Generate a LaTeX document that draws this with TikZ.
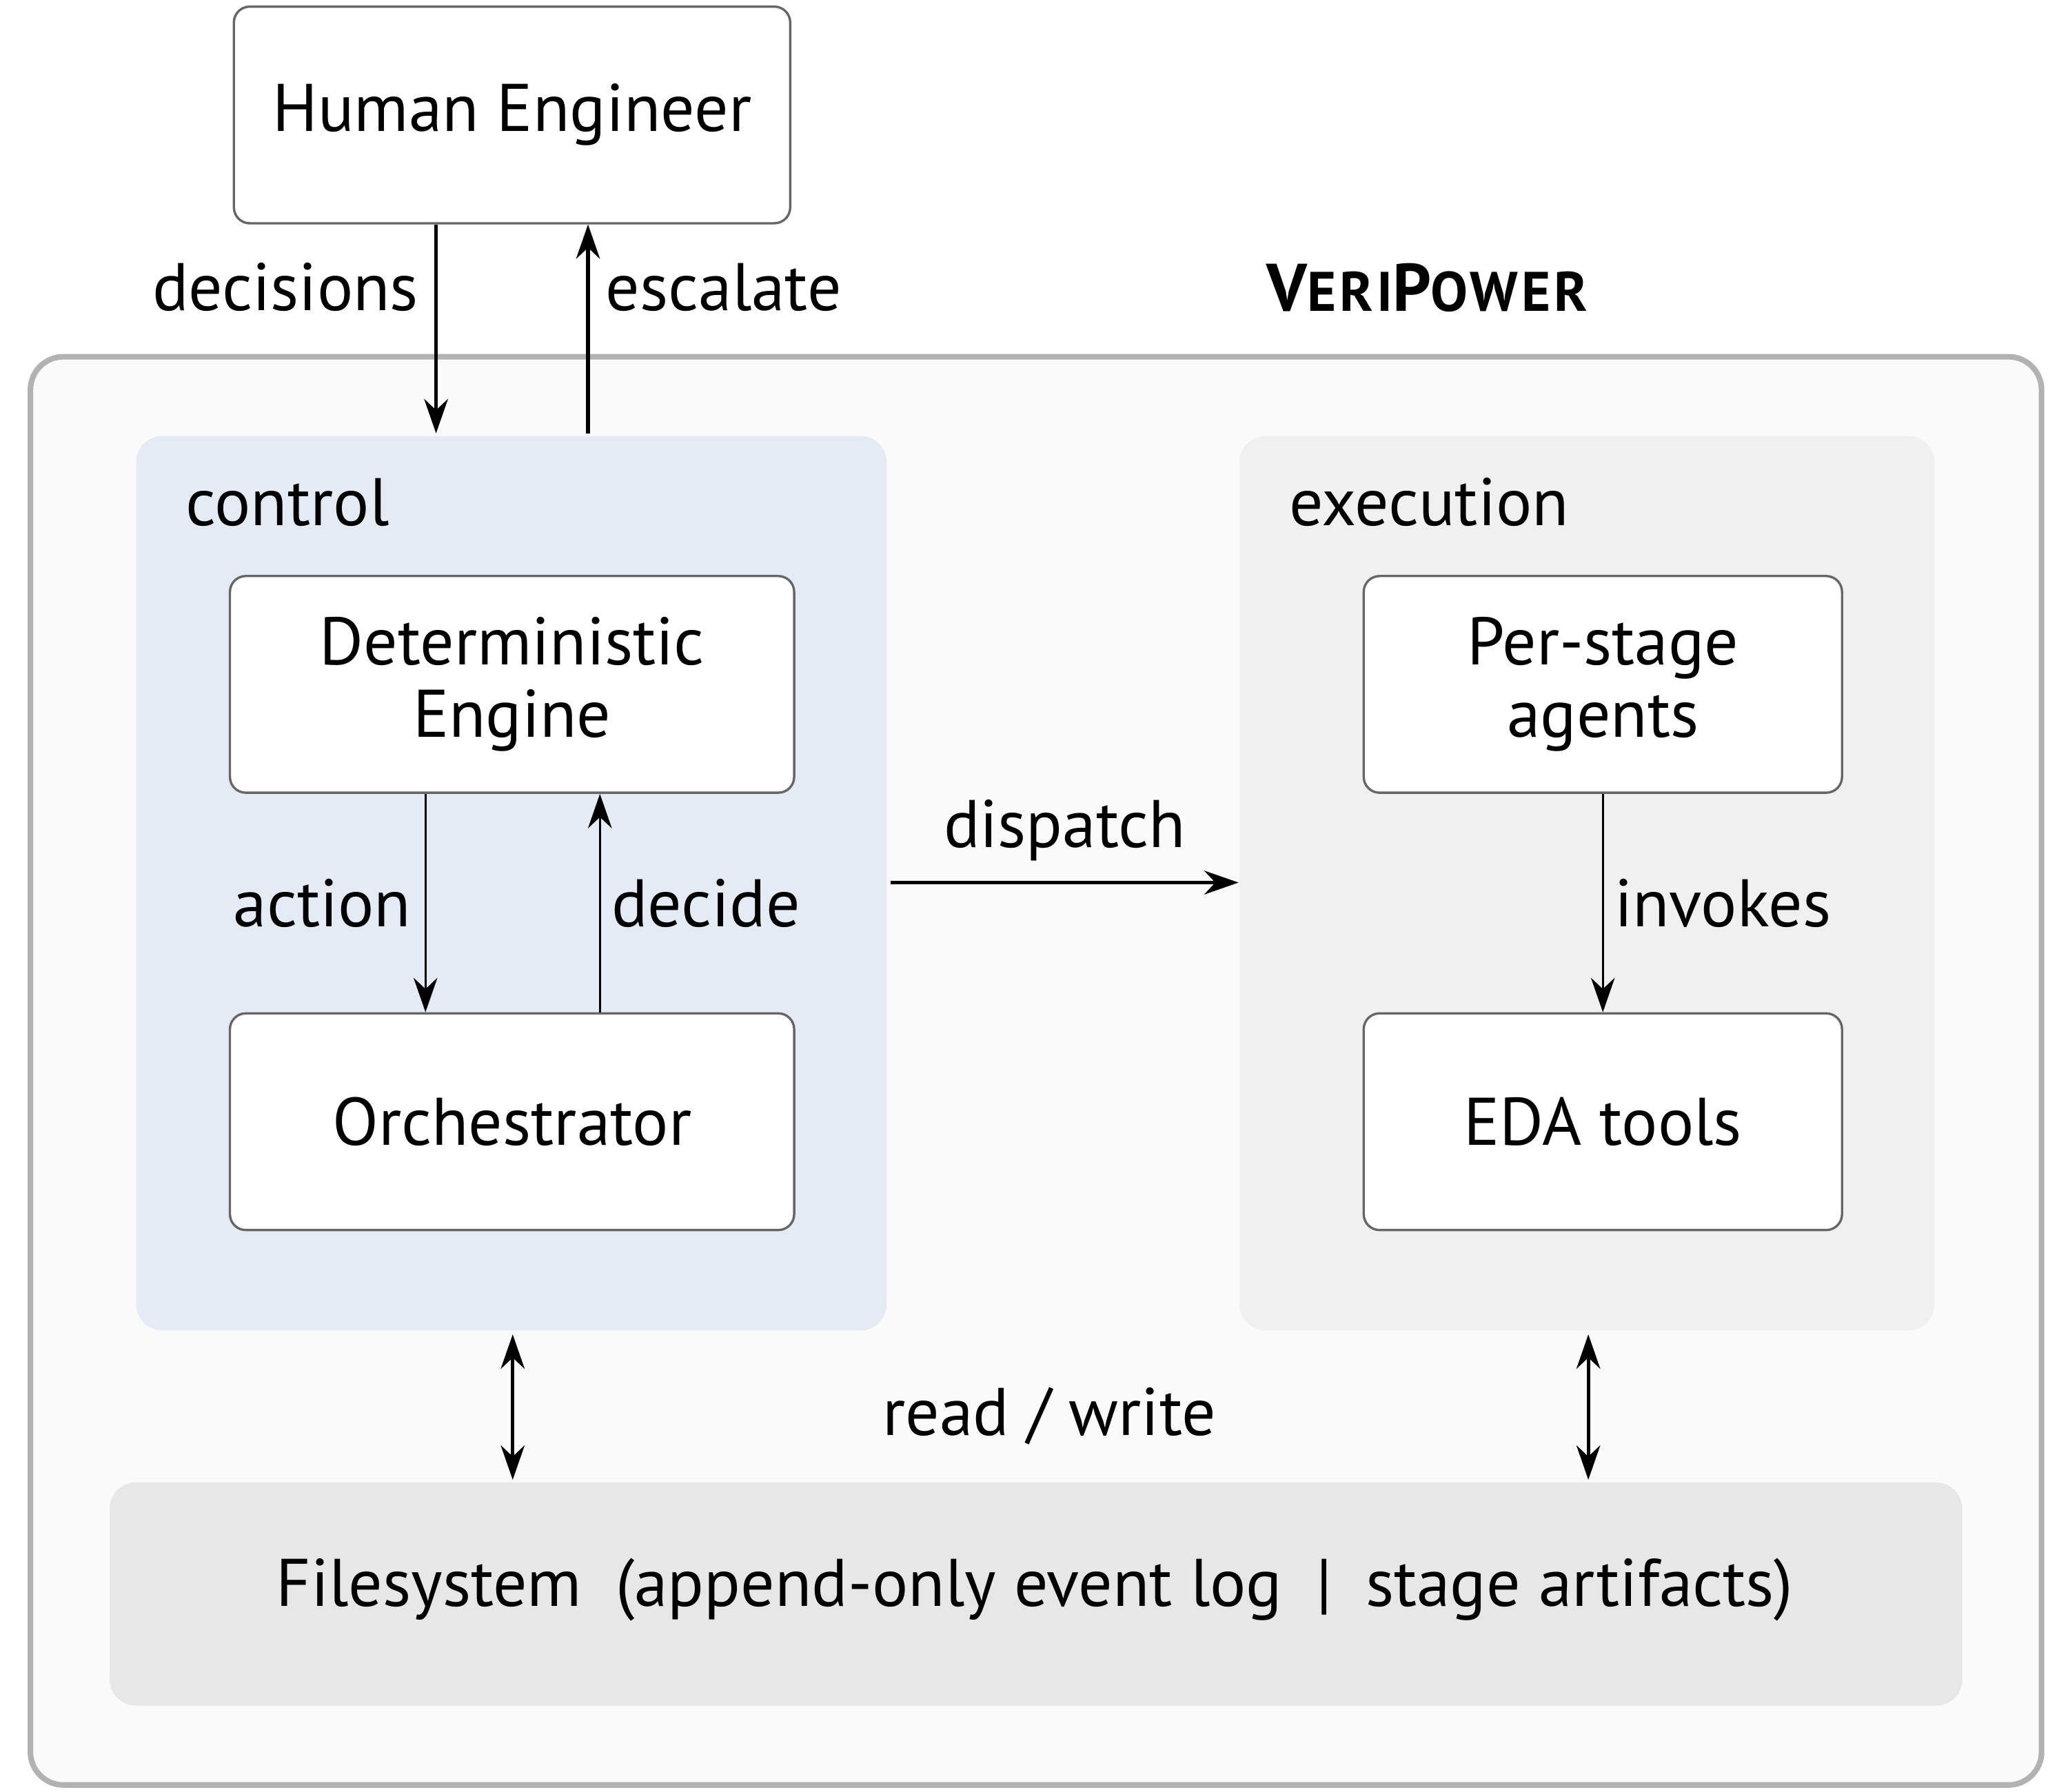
\documentclass[tikz,border=0pt]{standalone}
\usepackage{fontspec}
\setmainfont{PT Sans}
\usetikzlibrary{arrows.meta,calc}
\newcommand{\smc}[1]{{\fontsize{12}{12}\selectfont\addfontfeature{LetterSpace=6} #1}}
\begin{document}
\begin{tikzpicture}[x=0.1mm,y=-0.1mm,
  box/.style={draw=black!60,line width=0.5pt,rounded corners=1.2mm,fill=white,inner sep=0pt,align=center,minimum width=#1},
  panel/.style={rounded corners=2mm,inner sep=0pt},
  arr/.style={-{Stealth[length=2.6mm,width=1.8mm]},line width=0.6pt},
  barr/.style={{Stealth[length=2.6mm,width=1.8mm]}-{Stealth[length=2.6mm,width=1.8mm]},line width=0.7pt},
  lbl/.style={inner sep=0pt},
  font=\fontsize{14.5}{17}\selectfont]
\useasboundingbox (0,0) rectangle (1565,1356);
\fill[white] (0,0) rectangle (1565,1356);
\node[panel,draw=black!30,line width=1.2pt,fill=black!2,minimum width=152.2mm,minimum height=108.1mm,rounded corners=2.5mm] (outer) at (784,810.5) {};
\node[panel,fill={rgb,255:red,228;green,235;blue,245},minimum width=56.8mm,minimum height=67.7mm] (ctrl) at (387,668.5) {};
\node[panel,fill=black!6,minimum width=52.6mm,minimum height=67.7mm] (exec) at (1201,668.5) {};
\node[panel,fill=black!9.5,minimum width=140.2mm,minimum height=16.9mm] (fs) at (784,1206.5) {};
\node[box=42.1mm,minimum height=16.4mm] (he) at (387.5,87) {Human Engineer};
\node[box=42.7mm,minimum height=16.4mm] (de) at (387.5,518) {Deterministic\\[-0.5mm]Engine};
\node[box=42.7mm,minimum height=16.4mm] (or) at (387.5,849) {Orchestrator};
\node[box=36.2mm,minimum height=16.4mm] (pa) at (1213,518) {Per-stage\\[-0.5mm]agents};
\node[box=36.2mm,minimum height=16.4mm] (eda) at (1213,849) {EDA tools};
\node[lbl,anchor=west] (cl) at (140,380) {control};
\node[lbl,anchor=west] (el) at (975,380) {execution};
\node[lbl] (vp) at (1080,218) {\bfseries V\smc{ERI}P\smc{OWER}};
\node[lbl] (fst) at (783,1203) {Filesystem\hspace{0.5em}(append-only event log\hspace{0.5em}|\hspace{0.5em}stage artifacts)};
% arrows
\coordinate (c1) at (330,328); \coordinate (c2) at (445,328);
\draw[arr,line width=0.8pt] (he.south -| c1) -- (c1) node[lbl,pos=0.3,left=1.2mm] (ldec) {decisions};
\draw[arr,line width=0.8pt] (c2) -- (he.south -| c2) node[lbl,pos=0.7,right=1.2mm] (lesc) {escalate};
\coordinate (a1) at (322,0); \coordinate (a2) at (454,0);
\draw[arr,line width=0.5pt] (de.south -| a1) -- (or.north -| a1) node[lbl,midway,left=1mm] (lact) {action};
\draw[arr,line width=0.5pt] (or.north -| a2) -- (de.south -| a2) node[lbl,midway,right=0.8mm] (ldcd) {decide};
\draw[arr,line width=0.5pt] (pa) -- (eda) node[lbl,midway,right=0.8mm] (linv) {invokes};
\coordinate (d1) at (674,668);
\draw[arr,line width=0.7pt] (d1) -- (exec.west |- d1) node[lbl,midway,above=1.5mm] (ldis) {dispatch};
\coordinate (b1) at (388,1010); \coordinate (b2) at (388,1120);
\coordinate (b3) at (1202,1010); \coordinate (b4) at (1202,1120);
\draw[barr] (b1) -- (b2);
\draw[barr] (b3) -- (b4);
\node[lbl] (lrw) at (794,1072) {read / write};
\end{tikzpicture}
\end{document}
